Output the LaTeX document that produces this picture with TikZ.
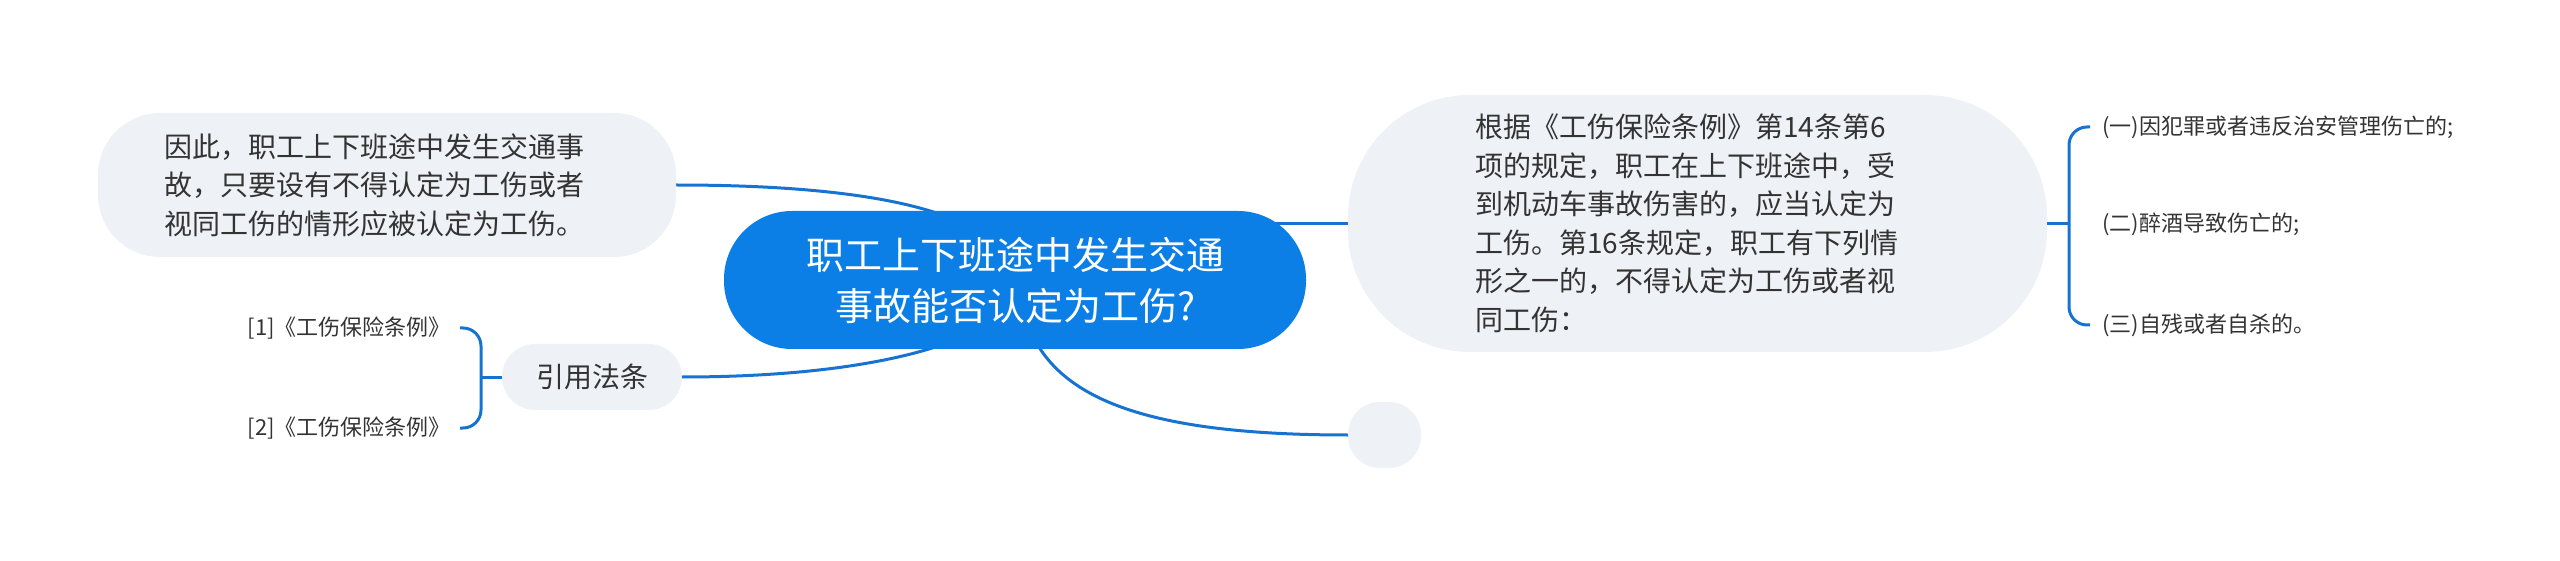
\documentclass[tikz,border=0pt]{standalone}
\usepackage{fontspec}
\setmainfont{Noto Sans CJK SC}
\definecolor{rootblue}{HTML}{0C7FE6}
\definecolor{connblue}{HTML}{1673D2}
\definecolor{leaffill}{HTML}{EEF1F5}
\definecolor{txt}{HTML}{333333}
\pgfdeclarelayer{background}
\pgfsetlayers{background,main}
\tikzset{
  leaf/.style={fill=leaffill, draw=none, text=txt, font=\fontsize{28}{38.5}\selectfont, inner sep=0pt, align=left},
  rootnode/.style={fill=rootblue, draw=none, text=white, font=\fontsize{38}{51}\selectfont, align=center, inner sep=0pt},
  conn/.style={draw=connblue, line width=3pt},
  smalltxt/.style={text=txt, font=\fontsize{22}{26}\selectfont, inner sep=0pt},
}
\begin{document}
\begin{tikzpicture}[x=1pt,y=-1pt]
\useasboundingbox (0,0) rectangle (2560,561);
% nodes
\node[rootnode, minimum width=582pt, minimum height=138pt, rounded corners=68pt] (c) at (1015,280)
  {职工上下班途中发生交通\\事故能否认定为工伤?};
\node[leaf, text width=446pt, minimum width=578pt, minimum height=144pt, rounded corners=62pt] (n1) at (387,185)
  {因此，职工上下班途中发生交通事\\故，只要设有不得认定为工伤或者\\视同工伤的情形应被认定为工伤。};
\node[leaf, align=center, minimum width=180pt, minimum height=66pt, rounded corners=33pt] (y) at (592,377) {引用法条};
\node[smalltxt, anchor=east] (t1) at (451,328) {[1]《工伤保险条例》};
\node[smalltxt, anchor=east] (t2) at (451,428) {[2]《工伤保险条例》};
\node[leaf, text width=445pt, minimum width=699pt, minimum height=257pt, rounded corners=122pt] (b) at (1697.5,223.5)
  {根据《工伤保险条例》第14条第6\\项的规定，职工在上下班途中，受\\到机动车事故伤害的，应当认定为\\工伤。第16条规定，职工有下列情\\形之一的，不得认定为工伤或者视\\同工伤：};
\node[leaf, minimum width=73pt, minimum height=66pt, rounded corners=32pt] (e) at (1384.5,435) {};
\node[smalltxt, anchor=west] (r1) at (2102,127) {(一)因犯罪或者违反治安管理伤亡的;};
\node[smalltxt, anchor=west] (r2) at (2102,224) {(二)醉酒导致伤亡的;};
\node[smalltxt, anchor=west] (r3) at (2102,325) {(三)自残或者自杀的。};
% connectors
\begin{pgfonlayer}{background}
\draw[conn] (n1.east) .. controls +(120,0) and +(-60,-27) .. ([shift={(-55,-58)}]c.center);
\draw[conn] (y.east) .. controls +(120,0) and +(-60,25) .. ([shift={(-55,58)}]c.center);
\draw[conn] (c.center |- b.west) -- (b.west);
\draw[conn] ([shift={(15,50)}]c.center) .. controls +(30,70) and +(-198,0) .. (e.west);
\end{pgfonlayer}
% brackets
\coordinate (lbx) at (y.west -| 481,0);
\draw[conn] (y.west) -- (lbx);
\draw[conn, rounded corners=18pt] ([xshift=9pt]t1.east) -| (lbx) |- ([xshift=9pt]t2.east);
\coordinate (rbx) at (b.east -| 2069,0);
\draw[conn] (b.east) -- (rbx);
\draw[conn, rounded corners=18pt] ([xshift=-12pt]r1.west) -| (rbx) |- ([xshift=-12pt]r3.west);
\end{tikzpicture}
\end{document}
